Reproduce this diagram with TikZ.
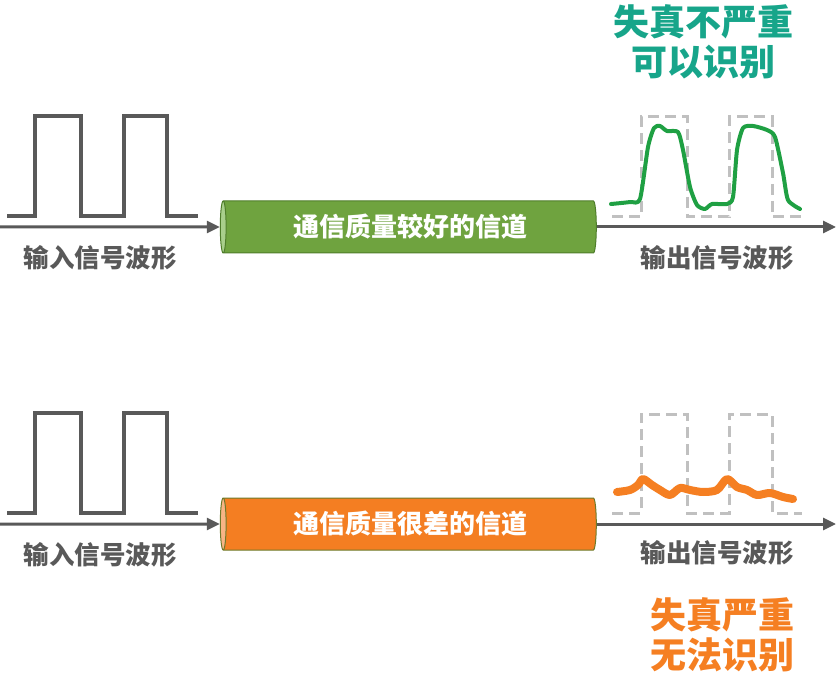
\documentclass[tikz,border=0pt]{standalone}
\usepackage{fontspec}
\usepackage{tikz}
\usetikzlibrary{arrows.meta,shapes.geometric}
\newfontfamily\cjk{Noto Sans CJK SC}
\definecolor{wavegray}{HTML}{595959}
\definecolor{dashgray}{HTML}{C0C0C0}
\definecolor{goodbody}{HTML}{6FA33F}
\definecolor{goodcap}{HTML}{A9CF8C}
\definecolor{goodline}{HTML}{4F7D2B}
\definecolor{badbody}{HTML}{F47E22}
\definecolor{badcap}{HTML}{F8B485}
\definecolor{badline}{HTML}{6E7A2A}
\definecolor{goodwave}{HTML}{1FA043}
\definecolor{goodtext}{HTML}{17A58A}
\definecolor{badtext}{HTML}{F57F22}

\begin{document}
\begin{tikzpicture}[x=1pt, y=-1pt]
  \tikzset{chan/.style={cylinder, shape border rotate=180, shape aspect=0.23,
      minimum width=52pt, minimum height=376pt, inner sep=0pt, draw, line width=1pt,
      cylinder uses custom fill, text=white, font=\cjk\bfseries\fontsize{26}{30}\selectfont}}
  \tikzset{conn/.style={line width=3pt, draw=wavegray, -{Triangle[length=13pt,width=12pt]}}}
  \tikzset{wavelabel/.style={text=wavegray, font=\cjk\bfseries\fontsize{25.5}{28}\selectfont}}
  \tikzset{verdict/.style={align=center, font=\cjk\bfseries\fontsize{36}{40}\selectfont}}
  \tikzset{square/.style={line width=4pt, draw=wavegray}}
  \tikzset{ghost/.style={line width=3pt, draw=dashgray, dash pattern=on 11pt off 6pt}}
  \useasboundingbox (0,0) rectangle (840,700);

  \node[chan, draw=goodline, cylinder body fill=goodbody, cylinder end fill=goodcap] (chanA) at (410,227) {通信质量较好的信道};
  \node[chan, draw=badline, cylinder body fill=badbody, cylinder end fill=badcap] (chanB) at (410,524) {通信质量很差的信道};

  \coordinate (inA) at (0,227);
  \coordinate (outA) at (836,227);
  \coordinate (inB) at (0,524);
  \coordinate (outB) at (836,524);
  \draw[conn] (inA) -- (chanA.west);
  \draw[conn] (chanA.east) -- (outA);
  \draw[conn] (inB) -- (chanB.west);
  \draw[conn] (chanB.east) -- (outB);

  \node[wavelabel] (inLabA) at (100,258) {输入信号波形};
  \node[wavelabel] (outLabA) at (717,258) {输出信号波形};
  \node[wavelabel] (inLabB) at (100,555) {输入信号波形};
  \node[wavelabel] (outLabB) at (717,553) {输出信号波形};

  \node[verdict, text=goodtext] (okA) at (703,42) {失真不严重\\可以识别};
  \node[verdict, text=badtext] (okB) at (722,635) {失真严重\\无法识别};

  % input waves
  \draw[square] (7,216) -- (35,216) -- (35,116) -- (81,116) -- (81,216) -- (124,216) -- (124,116) -- (167,116) -- (167,216) -- (198,216);
  \draw[square] (7,513) -- (35,513) -- (35,413) -- (81,413) -- (81,513) -- (124,513) -- (124,413) -- (167,413) -- (167,513) -- (198,513);

  % output waves
  \draw[ghost] (612,217) -- (641,217) -- (641,117) -- (687,117) -- (687,217) -- (729,217) -- (729,117) -- (772,117) -- (772,217) -- (802,217);
  \draw[ghost] (612,513) -- (641,513) -- (641,414) -- (687,414) -- (687,513) -- (729,513) -- (729,414) -- (772,414) -- (772,513) -- (802,513);

  \draw[goodwave, line width=4pt, line join=round, line cap=round] plot[smooth, tension=0.4] coordinates {
    (611,204) (630,202) (640,199) (648,147) (654,128) (660,126) (667,131) (678,132)
    (683,150) (690,187) (697,205) (705,209) (712,204) (727,204) (733,197) (737,150)
    (743,128) (753,126) (767,130) (775,137) (783,173) (788,200) (800,209)};
  \draw[badtext, line width=8pt, line join=round, line cap=round] plot[smooth, tension=0.5] coordinates {
    (617,492) (630,490) (638,485) (643,479) (652,485) (660,490) (670,495) (680,488)
    (690,490) (703,492) (717,490) (727,479) (737,487) (747,490) (757,495) (770,493)
    (783,497) (793,499)};
\end{tikzpicture}
\end{document}
